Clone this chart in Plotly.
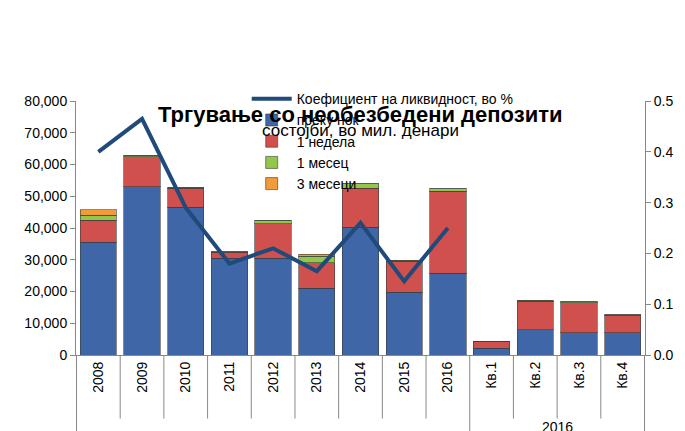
import plotly.graph_objects as go

cats = ["2008","2009","2010","2011","2012","2013","2014","2015","2016","Кв.1","Кв.2","Кв.3","Кв.4"]
overnight = [35500,53000,46500,30500,30500,21000,40300,19800,25800,2200,8000,7000,7000]
week = [7000,9500,6000,1800,10800,8000,12300,9700,25800,2200,9000,9500,5500]
month = [1500,400,300,300,1200,2100,1300,300,700,0,200,200,200]
three = [1800,0,0,0,0,700,0,0,0,0,0,0,0]
coef_cats = cats[:9]
coef = [0.40,0.465,0.29,0.18,0.21,0.165,0.26,0.145,0.25]

fig = go.Figure()
mk = lambda c: dict(color=c, line=dict(color="rgba(60,60,60,0.6)", width=1))
fig.add_bar(x=cats, y=overnight, name="преку ноќ", marker=mk("#3f66a6"), legendrank=4)
fig.add_bar(x=cats, y=week, name="1 недела", marker=mk("#d0504d"), legendrank=3)
fig.add_bar(x=cats, y=month, name="1 месец", marker=mk("#92c84a"), legendrank=2)
fig.add_bar(x=cats, y=three, name="3 месеци", marker=mk("#f29b38"), legendrank=1)
fig.add_scatter(x=coef_cats, y=coef, name="Коефициент на ликвидност, во %", yaxis="y2",
                mode="lines", line=dict(color="#1f4a7a", width=4), legendrank=5)

fig.update_layout(
    width=685, height=431, barmode="stack", bargap=0.17,
    paper_bgcolor="white", plot_bgcolor="white",
    margin=dict(l=68, r=48, t=93, b=84),
    font=dict(family="Liberation Sans, Arial", size=14, color="black"),
    legend=dict(x=0.3, y=1.07, xanchor="left", yanchor="top",
                bgcolor="rgba(0,0,0,0)", font=dict(size=14), tracegroupgap=0, itemwidth=40),
    showlegend=True,
    xaxis=dict(type="category", tickangle=-90, showline=True, linecolor="#888", ticks="",
               tickfont=dict(size=14)),
    yaxis=dict(range=[0,80000], dtick=10000, tickformat=",", showline=True, linecolor="#888",
               ticks="outside", tickcolor="#888", showgrid=False, zeroline=False),
    yaxis2=dict(range=[0,0.5], dtick=0.1, tickformat=".1f", overlaying="y", side="right",
                showline=True, linecolor="#888", ticks="outside", tickcolor="#888", showgrid=False),
)
fig.add_annotation(text="<b>Тргување со необезбедени депозити</b>", x=0.5, y=1.005, xref="paper",
                   yref="paper", yanchor="top", showarrow=False, font=dict(size=22))
fig.add_annotation(text="состојби, во мил. денари", x=0.5, y=0.93, xref="paper",
                   yref="paper", yanchor="top", showarrow=False, font=dict(size=17))
fig.add_annotation(text="2016", x=10.5, y=-0.245, xref="x", yref="paper", showarrow=False,
                   yanchor="top", font=dict(size=14))
for i in range(13):
    low = -0.33 if i in (8, 12) else -0.25
    fig.add_shape(type="line", x0=i + 0.5, x1=i + 0.5, y0=0, y1=low, xref="x", yref="paper",
                  line=dict(color="#888", width=1))
fig.add_shape(type="line", x0=-0.5, x1=-0.5, y0=0, y1=-0.33, xref="x", yref="paper",
              line=dict(color="#888", width=1))
fig.write_html("out.html")
